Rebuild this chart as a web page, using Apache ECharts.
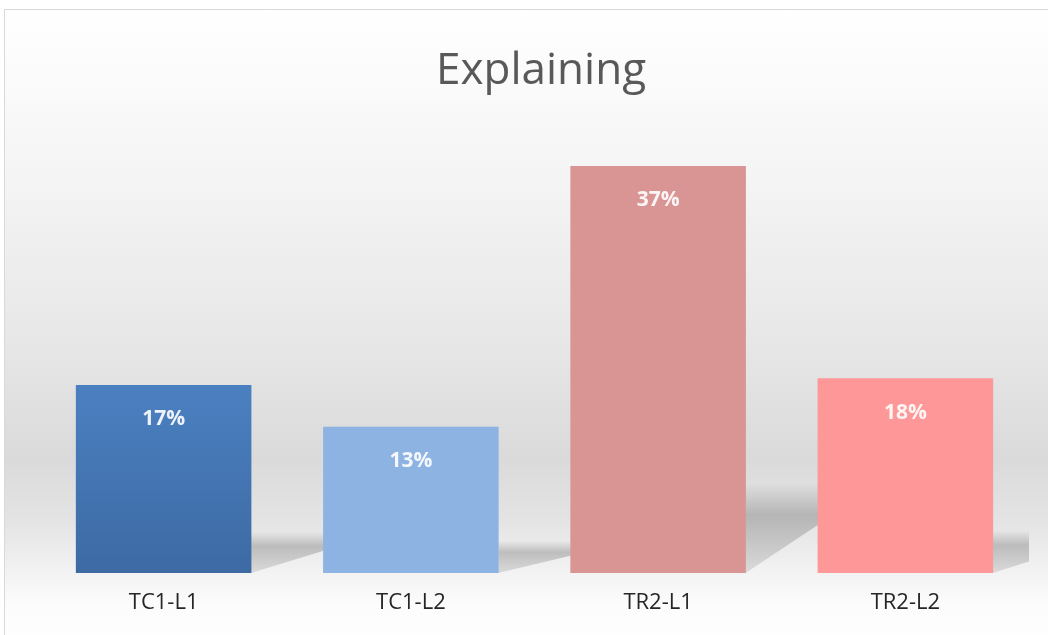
<!DOCTYPE html>
<html>
<head>
<meta charset="utf-8">
<script src="https://cdn.jsdelivr.net/npm/echarts@6/dist/echarts.min.js"></script>
<style>
html,body{margin:0;padding:0;background:#fff;}
#chart{width:1048px;height:635px;}
</style>
</head>
<body>
<div id="chart"></div>
<script>
// ---- data ----
const titleText = 'Explaining';
const categories = ['TC1-L1', 'TC1-L2', 'TR2-L1', 'TR2-L2'];
const values = [17.1, 13.3, 37, 17.7];

// ---- styles ----
const barColors = [
  {type:'linear',x:0,y:0,x2:0,y2:1,colorStops:[{offset:0,color:'#4b80c1'},{offset:1,color:'#3d6aa3'}]},
  '#8db3e2',
  '#d99594',
  '#fe9797'
];

const chart = echarts.init(document.getElementById('chart'), null, {renderer:'canvas'});

const option = {
  animation: false,
  backgroundColor: '#ffffff',
  graphic: [{
    type: 'rect',
    z: -10,
    silent: true,
    shape: {x: 4.5, y: 9.5, width: 1060, height: 640},
    style: {
      fill: {type:'linear',x:0,y:0,x2:0,y2:1,colorStops:[
        {offset:0,color:'#ffffff'},
        {offset:0.25,color:'#f5f5f5'},
        {offset:0.5,color:'#e8e8e8'},
        {offset:0.7,color:'#dadada'},
        {offset:0.8,color:'#e4e4e4'},
        {offset:0.93,color:'#fcfcfc'},
        {offset:1,color:'#ffffff'}
      ]},
      stroke: '#d9d9d9',
      lineWidth: 1
    }
  }],
  title: {
    text: titleText,
    left: 536,
    textAlign: 'center',
    top: 44,
    textStyle: {fontFamily: 'Open Sans', fontSize: 44, fontWeight: 'normal', color: '#595959'}
  },
  grid: {left: 40, right: 19, top: 133, bottom: 62, containLabel: false},
  xAxis: {
    type: 'category',
    data: categories,
    axisLine: {show: false},
    axisTick: {show: false},
    axisLabel: {fontFamily: 'Open Sans', fontSize: 22, color: '#262626', margin: 19}
  },
  yAxis: {
    type: 'value',
    min: 0,
    max: 40,
    show: false,
    splitLine: {show: false}
  },
  series: [
    {
      type: 'custom',
      z: 1,
      clip: true,
      silent: true,
      data: values.map((v, i) => [i, v]),
      renderItem: function (params, api) {
        const base = api.coord([api.value(0), 0]);
        const top = api.coord([api.value(0), api.value(1)]);
        const size = api.size([1, 0])[0];
        const bw = size * 0.707;
        const right = base[0] + bw / 2;
        const h = base[1] - top[1];
        const H = h * 0.22;
        const W = size * 0.3;
        const S = H * 0.55;
        return {
          type: 'polygon',
          shape: {points: [[right, base[1]], [right, base[1] - H], [right + W, base[1] - H], [right + W, base[1] - S]]},
          style: {
            fill: {type:'linear',x:0,y:0,x2:0,y2:1,colorStops:[
              {offset:0,color:'rgba(0,0,0,0)'},
              {offset:0.35,color:'rgba(0,0,0,0.2)'},
              {offset:1,color:'rgba(0,0,0,0.1)'}
            ]}
          }
        };
      }
    },
    {
      type: 'bar',
      z: 2,
      barCategoryGap: '29%',
      data: values.map((v, i) => ({value: v, itemStyle: {color: barColors[i]}})),
      label: {
        show: true,
        position: 'insideTop',
        distance: 24,
        formatter: p => Math.round(p.value) + '%',
        fontFamily: 'Open Sans',
        fontWeight: 'bold',
        fontSize: 21,
        color: 'rgba(255,255,255,0.9)'
      }
    }
  ]
};
chart.setOption(option);
</script>
</body>
</html>
